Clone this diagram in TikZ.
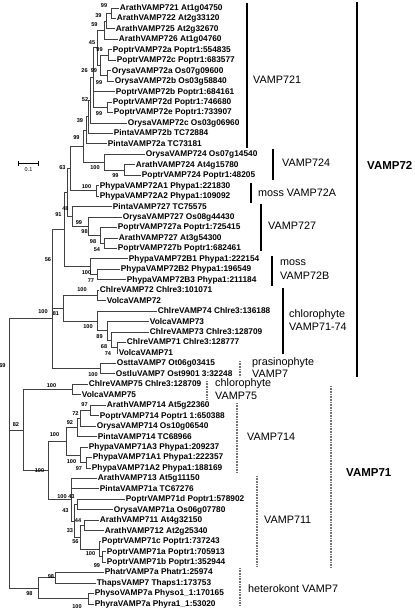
\documentclass[tikz,border=0pt]{standalone}
\usepackage{fontspec}
\setmainfont{Liberation Sans}
\begin{document}
\begin{tikzpicture}[x=1pt,y=-1pt,
 leaf/.style={anchor=west, inner xsep=1.2pt, inner ysep=0pt, text height=6.3pt, text depth=1.6pt, font=\bfseries\fontsize{8.3}{9}\selectfont},
 bs/.style={inner sep=0pt, font=\bfseries\fontsize{5.6}{6}\selectfont},
 br/.style={draw=black!75, line width=1pt},
 grp/.style={anchor=west, inner sep=0pt, font=\fontsize{10.8}{12}\selectfont},
 big/.style={anchor=west, inner sep=0pt, font=\bfseries\fontsize{11.5}{13}\selectfont},
 sbar/.style={line width=1.6pt, draw=black},
 dbar/.style={line width=1.8pt, draw=black!55, dash pattern=on 0.9pt off 0.7pt}]
\useasboundingbox (0,0) rectangle (415,611);
% leaves
\node[leaf] (l1) at (118.5,8.00) {ArathVAMP721 At1g04750};
\node[leaf] (l2) at (115.5,18.46) {ArathVAMP722 At2g33120};
\node[leaf] (l3) at (114.5,28.91) {ArathVAMP725 At2g32670};
\node[leaf] (l4) at (117.5,39.37) {ArathVAMP726 At1g04760};
\node[leaf] (l5) at (111.5,49.82) {PoptrVAMP72a Poptr1:554835};
\node[leaf] (l6) at (115.5,60.28) {PoptrVAMP72c Poptr1:683577};
\node[leaf] (l7) at (110.5,70.74) {OrysaVAMP72a Os07g09600};
\node[leaf] (l8) at (113.5,81.19) {OrysaVAMP72b Os03g58840};
\node[leaf] (l9) at (114.5,91.65) {PoptrVAMP72b Poptr1:684161};
\node[leaf] (l10) at (111.5,102.10) {PoptrVAMP72d Poptr1:746680};
\node[leaf] (l11) at (112.5,112.56) {PoptrVAMP72e Poptr1:733907};
\node[leaf] (l12) at (126.5,123.02) {OrysaVAMP72c Os03g06960};
\node[leaf] (l13) at (112.5,133.47) {PintaVAMP72b TC72884};
\node[leaf] (l14) at (106.5,143.93) {PintaVAMP72a TC73181};
\node[leaf] (l15) at (144.5,154.38) {OrysaVAMP724 Os07g14540};
\node[leaf] (l16) at (134.5,164.84) {ArathVAMP724 At4g15780};
\node[leaf] (l17) at (140.5,175.30) {PoptrVAMP724 Poptr1:48205};
\node[leaf] (l18) at (98.5,185.75) {PhypaVAMP72A1 Phypa1:221830};
\node[leaf] (l19) at (98.5,196.21) {PhypaVAMP72A2 Phypa1:109092};
\node[leaf] (l20) at (111.5,206.66) {PintaVAMP727 TC75575};
\node[leaf] (l21) at (121.5,217.12) {OrysaVAMP727 Os08g44430};
\node[leaf] (l22) at (116.5,227.58) {PoptrVAMP727a Poptr1:725415};
\node[leaf] (l23) at (117.5,238.03) {ArathVAMP727 At3g54300};
\node[leaf] (l24) at (116.5,248.49) {PoptrVAMP727b Poptr1:682461};
\node[leaf] (l25) at (127.5,258.94) {PhypaVAMP72B1 Phypa1:222154};
\node[leaf] (l26) at (119.5,269.40) {PhypaVAMP72B2 Phypa1:196549};
\node[leaf] (l27) at (125.5,279.86) {PhypaVAMP72B3 Phypa1:211184};
\node[leaf] (l28) at (98.5,290.31) {ChlreVAMP72 Chlre3:101071};
\node[leaf] (l29) at (105.5,300.77) {VolcaVAMP72};
\node[leaf] (l30) at (156.5,311.22) {ChlreVAMP74 Chlre3:136188};
\node[leaf] (l31) at (148.5,321.68) {VolcaVAMP73};
\node[leaf] (l32) at (148.5,332.14) {ChlreVAMP73 Chlre3:128709};
\node[leaf] (l33) at (125.5,342.59) {ChlreVAMP71 Chlre3:128777};
\node[leaf] (l34) at (117.5,353.05) {VolcaVAMP71};
\node[leaf] (l35) at (115.5,363.50) {OsttaVAMP7 Ot06g03415};
\node[leaf] (l36) at (114.5,373.96) {OstluVAMP7 Ost9901 3:32248};
\node[leaf] (l37) at (87.5,384.42) {ChlreVAMP75 Chlre3:128709};
\node[leaf] (l38) at (80.5,394.87) {VolcaVAMP75};
\node[leaf] (l39) at (105.5,405.33) {ArathVAMP714 At5g22360};
\node[leaf] (l40) at (98.5,415.78) {PoptrVAMP714 Poptr1 1:650388};
\node[leaf] (l41) at (95.5,426.24) {OrysaVAMP714 Os10g06540};
\node[leaf] (l42) at (96.5,436.70) {PintaVAMP714 TC68966};
\node[leaf] (l43) at (87.5,447.15) {PhypaVAMP71A3 Phypa1:209237};
\node[leaf] (l44) at (91.5,457.61) {PhypaVAMP71A1 Phypa1:222357};
\node[leaf] (l45) at (90.5,468.06) {PhypaVAMP71A2 Phypa1:188169};
\node[leaf] (l46) at (96.5,478.52) {ArathVAMP713 At5g11150};
\node[leaf] (l47) at (98.5,488.98) {PintaVAMP71a TC67276};
\node[leaf] (l48) at (124.5,499.43) {PoptrVAMP71d Poptr1:578902};
\node[leaf] (l49) at (112.5,509.89) {OrysaVAMP71a Os06g07780};
\node[leaf] (l50) at (98.5,520.34) {ArathVAMP711 At4g32150};
\node[leaf] (l51) at (103.5,530.80) {ArathVAMP712 At2g25340};
\node[leaf] (l52) at (100.5,541.26) {PoptrVAMP71c Poptr1:737243};
\node[leaf] (l53) at (105.5,551.71) {PoptrVAMP71a Poptr1:705913};
\node[leaf] (l54) at (105.5,562.17) {PoptrVAMP71b Poptr1:352944};
\node[leaf] (l55) at (103.5,572.62) {PhatrVAMP7a Phatr1:25974};
\node[leaf] (l56) at (95.5,583.08) {ThapsVAMP7 Thaps1:173753};
\node[leaf] (l57) at (93.5,593.54) {PhysoVAMP7a Physo1\_1:170165};
\node[leaf] (l58) at (93.5,604.00) {PhyraVAMP7a Phyra1\_1:53020};
% internal nodes
\coordinate (A) at (111,13.2);
\coordinate (B) at (106,21.1);
\coordinate (C) at (104,30.2);
\coordinate (D) at (108,55.05);
\coordinate (E) at (107,75.97);
\coordinate (G) at (100,65.5);
\coordinate (H) at (97,47.9);
\coordinate (I) at (107,107.3);
\coordinate (J) at (93,77.6);
\coordinate (K) at (90,100.3);
\coordinate (M) at (88,116.9);
\coordinate (N) at (86,130.4);
\coordinate (O) at (124,170.07);
\coordinate (P) at (104,162.2);
\coordinate (Q) at (83,146.3);
\coordinate (T) at (96,190.98);
\coordinate (U1) at (104,243.26);
\coordinate (U2) at (100,235.4);
\coordinate (U3) at (88,226.3);
\coordinate (U4) at (72,216.5);
\coordinate (V1) at (97,274.63);
\coordinate (V2) at (90,266.8);
\coordinate (S1) at (70,168.7);
\coordinate (S2) at (67,192.6);
\coordinate (S3) at (64,229.7);
\coordinate (CV) at (97,295.54);
\coordinate (C1) at (117,347.82);
\coordinate (C2) at (111,340.0);
\coordinate (C3) at (107,330.8);
\coordinate (C4) at (97,321.0);
\coordinate (C5) at (63,308.3);
\coordinate (Pr) at (100,368.73);
\coordinate (Y) at (52,318);
\coordinate (V75) at (72,389.65);
\coordinate (A714) at (90,410.56);
\coordinate (X72) at (80,418.4);
\coordinate (X92) at (77,427.6);
\coordinate (M71a) at (86,462.84);
\coordinate (M71) at (80,455.0);
\coordinate (V714) at (66,441.3);
\coordinate (W1) at (102,556.94);
\coordinate (W2) at (99,549.1);
\coordinate (W3) at (84,525.57);
\coordinate (W4) at (77,504.66);
\coordinate (W5) at (80,537.3);
\coordinate (W6) at (74,521.0);
\coordinate (W7) at (71,499.8);
\coordinate (B71) at (48,470.5);
\coordinate (V71) at (23,430);
\coordinate (Di) at (55,577.85);
\coordinate (Oo) at (88,598.77);
\coordinate (He) at (38,588.3);
\coordinate (R) at (9,450);
% branches
\foreach \p/\c in {A/l1, A/l2, B/A, B/l3, C/B, C/l4, D/l5, D/l6, E/l7, E/l8, G/D, G/E, H/C, H/G, I/l10, I/l11, J/H, J/l9, J/I, K/J, K/l12, M/K, M/l13, N/M, N/l14, O/l16, O/l17, P/l15, P/O, Q/N, Q/P, T/l18, T/l19, U1/l23, U1/l24, U2/l22, U2/U1, U3/l21, U3/U2, U4/l20, U4/U3, V1/l26, V1/l27, V2/l25, V2/V1, S1/Q, S1/T, S2/S1, S2/U4, S3/S2, S3/V2, CV/l28, CV/l29, C1/l33, C1/l34, C2/l32, C2/C1, C3/l31, C3/C2, C4/l30, C4/C3, C5/CV, C5/C4, Pr/l35, Pr/l36, Y/S3, Y/C5, Y/Pr, V75/l37, V75/l38, A714/l39, A714/l40, X72/A714, X72/l41, X92/X72, X92/l42, M71a/l44, M71a/l45, M71/l43, M71/M71a, V714/X92, V714/M71, W1/l53, W1/l54, W2/l52, W2/W1, W3/l50, W3/l51, W4/l48, W4/l49, W5/W3, W5/W2, W6/W4, W6/W5, W7/l46, W7/l47, W7/W6, B71/V714, B71/W7, V71/V75, V71/B71, Di/l55, Di/l56, Oo/l57, Oo/l58, He/Di, He/Oo, R/Y, R/V71, R/He}
  \draw[br] (\p) |- (\c);
% bootstrap values
\foreach \x/\y/\t [count=\i] in {104/6/99, 98.5/16/39, 94.5/25/59, 92/43/45, 99.5/50/99, 84.5/71/26, 94/71/99, 99/82.5/99, 85/99.5/52, 99/114/99, 80/121/39, 76.5/138/99, 62.5/168/63, 95/168/100, 115.5/176/99, 86.5/186.5/100, 65.5/209/48, 58.5/215/91, 79/223/99, 84.5/232/98, 93/242/98, 97/250/54, 48/260/56, 86.5/273/100, 91/281/77, 82/290/100, 43/312/100, 56/314/81, 88/327/100, 99.5/337/89, 104/347/68, 108/354/74, 2.5/366/69, 93/375/100, 51.5/386/100, 84.5/404.5/97, 75.5/414/72, 70/423/92, 16/425/82, 54.5/435/100, 71.5/462/100, 79/469/97, 39.5/471/100, 62/497/100, 71.5/497/43, 65.5/511/43, 78/521/44, 70/531/33, 75.5/542/56, 90.5/554/100, 97/566/99, 51/577/98, 29.5/594/98, 77/607/100}
  \node[bs] (b\i) at (\x,\y) {\t};
% scale bar
\coordinate (sb1) at (18,163);
\coordinate (sb2) at (38,163);
\draw[line width=0.9pt] (sb1) -- (sb2);
\draw[line width=0.9pt] ([yshift=-2.5pt]sb1) -- ([yshift=2.5pt]sb1);
\draw[line width=0.9pt] ([yshift=-2.5pt]sb2) -- ([yshift=2.5pt]sb2);
\node[inner sep=0pt, font=\fontsize{5.5}{6}\selectfont] (sbl) at (28.5,170) {0.1};
% group bars
\foreach \n/\x/\a/\b in {g721/247/3/148, g724/273/149/180, gmA/251/183/203, g727/261/204/251, gmB/272/256/286, gch/283/288/354, g72/357/2/377}{
  \coordinate (\n t) at (\x,\a); \coordinate (\n b) at (\x,\b);
  \draw[sbar] (\n t) -- (\n b);}
\foreach \n/\x/\a/\b in {gpr/240/361/377, gc75/207/381/399, g714/237/403/473, g711/257/476/567, ghe/240/568/606, g71/331/386/567}{
  \coordinate (\n t) at (\x,\a); \coordinate (\n b) at (\x,\b);
  \draw[dbar] (\n t) -- (\n b);}
% group labels
\node[grp] (t721) at (253,80) {VAMP721};
\node[grp] (t724) at (282,163) {VAMP724};
\node[grp] (tmA) at (258,193) {moss VAMP72A};
\node[grp] (t727) at (268,226) {VAMP727};
\node[grp] (tmB1) at (280,263) {moss};
\node[grp] (tmB2) at (280,276) {VAMP72B};
\node[grp] (tch1) at (289,315) {chlorophyte};
\node[grp] (tch2) at (289,326.5) {VAMP71-74};
\node[grp] (tpr1) at (252,363) {prasinophyte};
\node[grp] (tpr2) at (252,374) {VAMP7};
\node[grp] (tc751) at (215,384) {chlorophyte};
\node[grp] (tc752) at (215,395.5) {VAMP75};
\node[grp] (t714) at (247,437) {VAMP714};
\node[grp] (t711) at (264,520) {VAMP711};
\node[grp] (the) at (248,589) {heterokont VAMP7};
\node[big] (t72) at (367,165) {VAMP72};
\node[big] (t71) at (346,473) {VAMP71};
\end{tikzpicture}
\end{document}
